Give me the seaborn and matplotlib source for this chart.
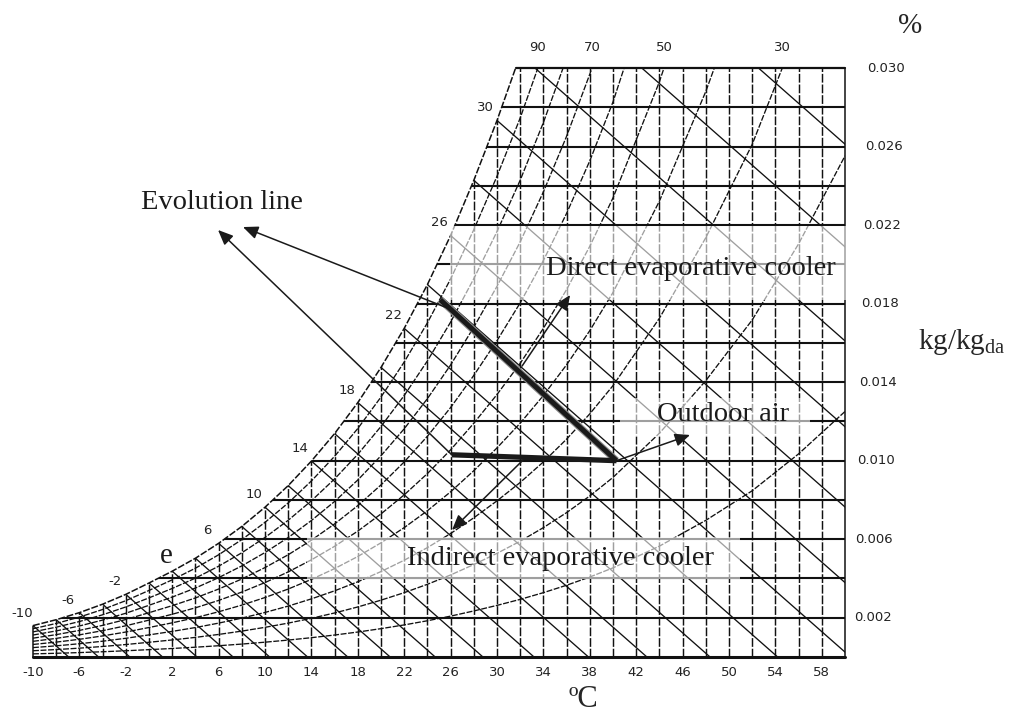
"""
Psychrometric chart with the evaporative cooling evolution lines
"""

import numpy as np
import pandas as pd
import matplotlib
matplotlib.use('Agg')
import matplotlib.pyplot as plt
import matplotlib.patheffects as pe
from matplotlib.patches import Polygon, Rectangle
import seaborn as sns

# saturation curve (dry bulb degC, humidity ratio kg/kg_da) read from the left
# edge of the chart; points above 0.030 estimated from where curves enter the top
sat_T = [-10, -8, -6, -4, -2, 0, 2, 4, 6, 8, 10, 12, 14, 16, 18, 20, 22, 24,
         26, 28, 30, 32, 34, 36, 38, 40, 44, 48, 52, 56, 60]
sat_W = [0.0016, 0.0019, 0.00226, 0.00269, 0.00319, 0.00377, 0.00437, 0.00503,
         0.00579, 0.00665, 0.00763, 0.00873, 0.00998, 0.01138, 0.01296, 0.01475,
         0.01674, 0.01897, 0.02147, 0.02428, 0.02733, 0.03066, 0.03441, 0.0386,
         0.0433, 0.0486, 0.0615, 0.0774, 0.0965, 0.1217, 0.1527]

rh_levels = [10, 20, 30, 40, 50, 60, 70, 80, 90]
rh_labels = [90, 70, 50, 30]

# wet bulb lines start on the saturation curve every 2 degC
wb_temps = [-10, -8, -6, -4, -2, 0, 2, 4, 6, 8, 10, 12, 14, 16, 18, 20, 22,
            24, 26, 28, 30, 32, 34, 36]
wb_slope = 0.00052   # kg/kg per degC, as drawn on the chart

db_lines = [-8, -6, -4, -2, 0, 2, 4, 6, 8, 10, 12, 14, 16, 18, 20, 22, 24, 26,
            28, 30, 32, 34, 36, 38, 40, 42, 44, 46, 48, 50, 52, 54, 56, 58]
db_labels = [-10, -6, -2, 2, 6, 10, 14, 18, 22, 26, 30, 34, 38, 42, 46, 50, 54, 58]
w_lines = [0.002, 0.004, 0.006, 0.008, 0.010, 0.012, 0.014, 0.016, 0.018,
           0.020, 0.022, 0.024, 0.026, 0.028]
w_labels = [0.002, 0.006, 0.010, 0.014, 0.018, 0.022, 0.026, 0.030]
sat_label_T = [-10, -6, -2, 2, 6, 10, 14, 18, 22, 26, 30]
sat_label_txt = ['-10', '-6', '-2', 'e', '6', '10', '14', '18', '22', '26', '30']

# states of the process
outdoor = (40.3, 0.0100)
direct_end = (25.1, 0.0182)
indirect_end = (26.1, 0.0103)

T_MIN, T_MAX, W_TOP = -10, 60, 0.030

sns.set_theme(style='white')
plt.rcParams['font.family'] = ['DejaVu Sans']
plt.rcParams['mathtext.fontset'] = 'custom'
plt.rcParams['mathtext.rm'] = 'Liberation Serif'
SERIF = 'Liberation Serif'
INK = '#111111'

fig = plt.figure(figsize=(10.13, 7.15), dpi=100)
ax = fig.add_axes([0, 0, 1, 1])
ax.set_xlim(-12.845, 74.48)
ax.set_ylim(-0.002954, 0.033464)
ax.axis('off')

# chart outline used for clipping
T_top = float(np.interp(W_TOP, sat_W, sat_T))
edge = [(T_MIN, 0.0)] + [(t, w) for t, w in zip(sat_T, sat_W) if w <= W_TOP]
edge += [(T_top, W_TOP), (T_MAX, W_TOP), (T_MAX, 0.0)]
clip = Polygon(edge, closed=True, transform=ax.transData)

# relative humidity curves
rows = []
for rh in rh_levels:
    phi = rh / 100.0
    for t, ws in zip(sat_T, sat_W):
        x = ws / (0.622 + ws)
        rows.append({'rh': rh, 'T': t, 'W': 0.622 * phi * x / (1 - phi * x)})
rh_df = pd.DataFrame(rows)

# wet bulb lines
rows = []
for t in wb_temps:
    ws = sat_W[sat_T.index(t)]
    rows.append({'wb': t, 'T': t, 'W': ws})
    rows.append({'wb': t, 'T': t + ws / wb_slope, 'W': 0.0})
wb_df = pd.DataFrame(rows)

n0 = len(ax.lines)
sns.lineplot(data=rh_df, x='T', y='W', units='rh', estimator=None, color=INK,
             lw=0.95, linestyle=(0, (4.5, 1.2)), legend=False, ax=ax)
sns.lineplot(data=wb_df, x='T', y='W', units='wb', estimator=None, color=INK,
             lw=0.95, legend=False, ax=ax)
clipped = list(ax.lines[n0:])
clipped.append(ax.vlines(db_lines, 0, W_TOP, colors=INK, lw=1.05,
                         linestyles=[(0, (6, 1.3))]))
clipped.append(ax.hlines(w_lines, T_MIN, T_MAX, colors=INK, lw=1.5))
for art in clipped:
    art.set_clip_path(clip)

# outline
sat_in = [(t, w) for t, w in zip(sat_T, sat_W) if w <= W_TOP] + [(T_top, W_TOP)]
ax.plot([p[0] for p in sat_in], [p[1] for p in sat_in], color=INK, lw=1.1,
        linestyle=(0, (4.5, 1.2)))
ax.plot([T_top, T_MAX], [W_TOP, W_TOP], color=INK, lw=1.6)
ax.plot([T_MIN, T_MAX], [0, 0], color=INK, lw=2.2)
ax.plot([T_MAX, T_MAX], [0, W_TOP], color=INK, lw=1.1)
ax.plot([T_MIN, T_MIN], [0, sat_W[0]], color=INK, lw=1.1)

# light boxes behind the captions
for x0, x1, y0, y1 in [(13.6, 50.95, 0.00397, 0.00611),
                       (25.95, 61.3, 0.01818, 0.02195),
                       (40.6, 57.0, 0.01121, 0.01319)]:
    ax.add_patch(Rectangle((x0, y0), x1 - x0, y1 - y0, facecolor='white',
                           edgecolor='none', alpha=0.6, zorder=3))

# process lines
ax.plot([direct_end[0], outdoor[0]], [direct_end[1], outdoor[1]], color='k',
        lw=3.6, solid_capstyle='butt', zorder=4,
        path_effects=[pe.Stroke(linewidth=5.2, foreground='#8a8a8a'), pe.Normal()])
ax.plot([indirect_end[0], outdoor[0]], [indirect_end[1], outdoor[1]], color='k',
        lw=3.8, solid_capstyle='butt', zorder=4)

arrow = dict(arrowstyle='-|>,head_length=0.65,head_width=0.28', color='k',
             lw=1.1, shrinkA=0, shrinkB=0, mutation_scale=14)
tail_a = (direct_end[0] + 0.06 * (outdoor[0] - direct_end[0]),
          direct_end[1] + 0.06 * (outdoor[1] - direct_end[1]))
for head, tail in [((8.1, 0.0219), tail_a),
                   ((5.95, 0.02175), indirect_end),
                   ((36.3, 0.01844), (32.16, 0.01482)),
                   ((46.64, 0.01131), outdoor),
                   ((26.12, 0.00647), (32.24, 0.01003))]:
    ax.annotate('', xy=head, xytext=tail, arrowprops=arrow, zorder=5)

# scale labels
for t in db_labels:
    ax.annotate(str(t), (t, 0), xytext=(0, -11), textcoords='offset points',
                ha='center', va='center', fontsize=9.5, color='#222')
for w in w_labels:
    ax.annotate(f'{w:.3f}', (T_MAX, w), xytext=(5.5 + 350 * w, 0),
                textcoords='offset points', ha='left', va='center',
                fontsize=9.5, color='#222')
for t, txt in zip(sat_label_T, sat_label_txt):
    ws = sat_W[sat_T.index(t)]
    if txt == 'e':
        ax.annotate(txt, (t, ws), xytext=(-4, 11), textcoords='offset points',
                    ha='center', va='center', fontsize=21, family=SERIF, color='k')
    else:
        ax.annotate(txt, (t, ws), xytext=(-8, 9), textcoords='offset points',
                    ha='center', va='center', fontsize=9.5, color='#222')
for rh in rh_labels:
    curve = rh_df[rh_df['rh'] == rh]
    t_cross = float(np.interp(W_TOP, curve['W'], curve['T']))
    ax.annotate(str(rh), (t_cross, W_TOP), xytext=(0, 14.5),
                textcoords='offset points', ha='center', va='center',
                fontsize=9.5, color='#222')

# captions
cap = dict(family=SERIF, fontsize=20.5, color='k', zorder=6, va='center')
ax.text(6.29, 0.02317, 'Evolution line', ha='center', **cap)
ax.text(46.72, 0.01981, 'Direct evaporative cooler', ha='center', **cap)
ax.text(49.5, 0.01233, 'Outdoor air', ha='center', **cap)
ax.text(35.5, 0.00504, 'Indirect evaporative cooler', ha='center', **cap)
fig.text(0.898, 0.963, '%', family=SERIF, fontsize=21, ha='center', va='center')
fig.text(0.906, 0.522, r'kg/kg$_{\mathrm{da}}$', family=SERIF, fontsize=21,
         ha='left', va='center')
fig.text(0.5755, 0.021, 'ºC', family=SERIF, fontsize=22, ha='center', va='center')

fig.savefig('out.png', dpi=100)
plt.close(fig)
